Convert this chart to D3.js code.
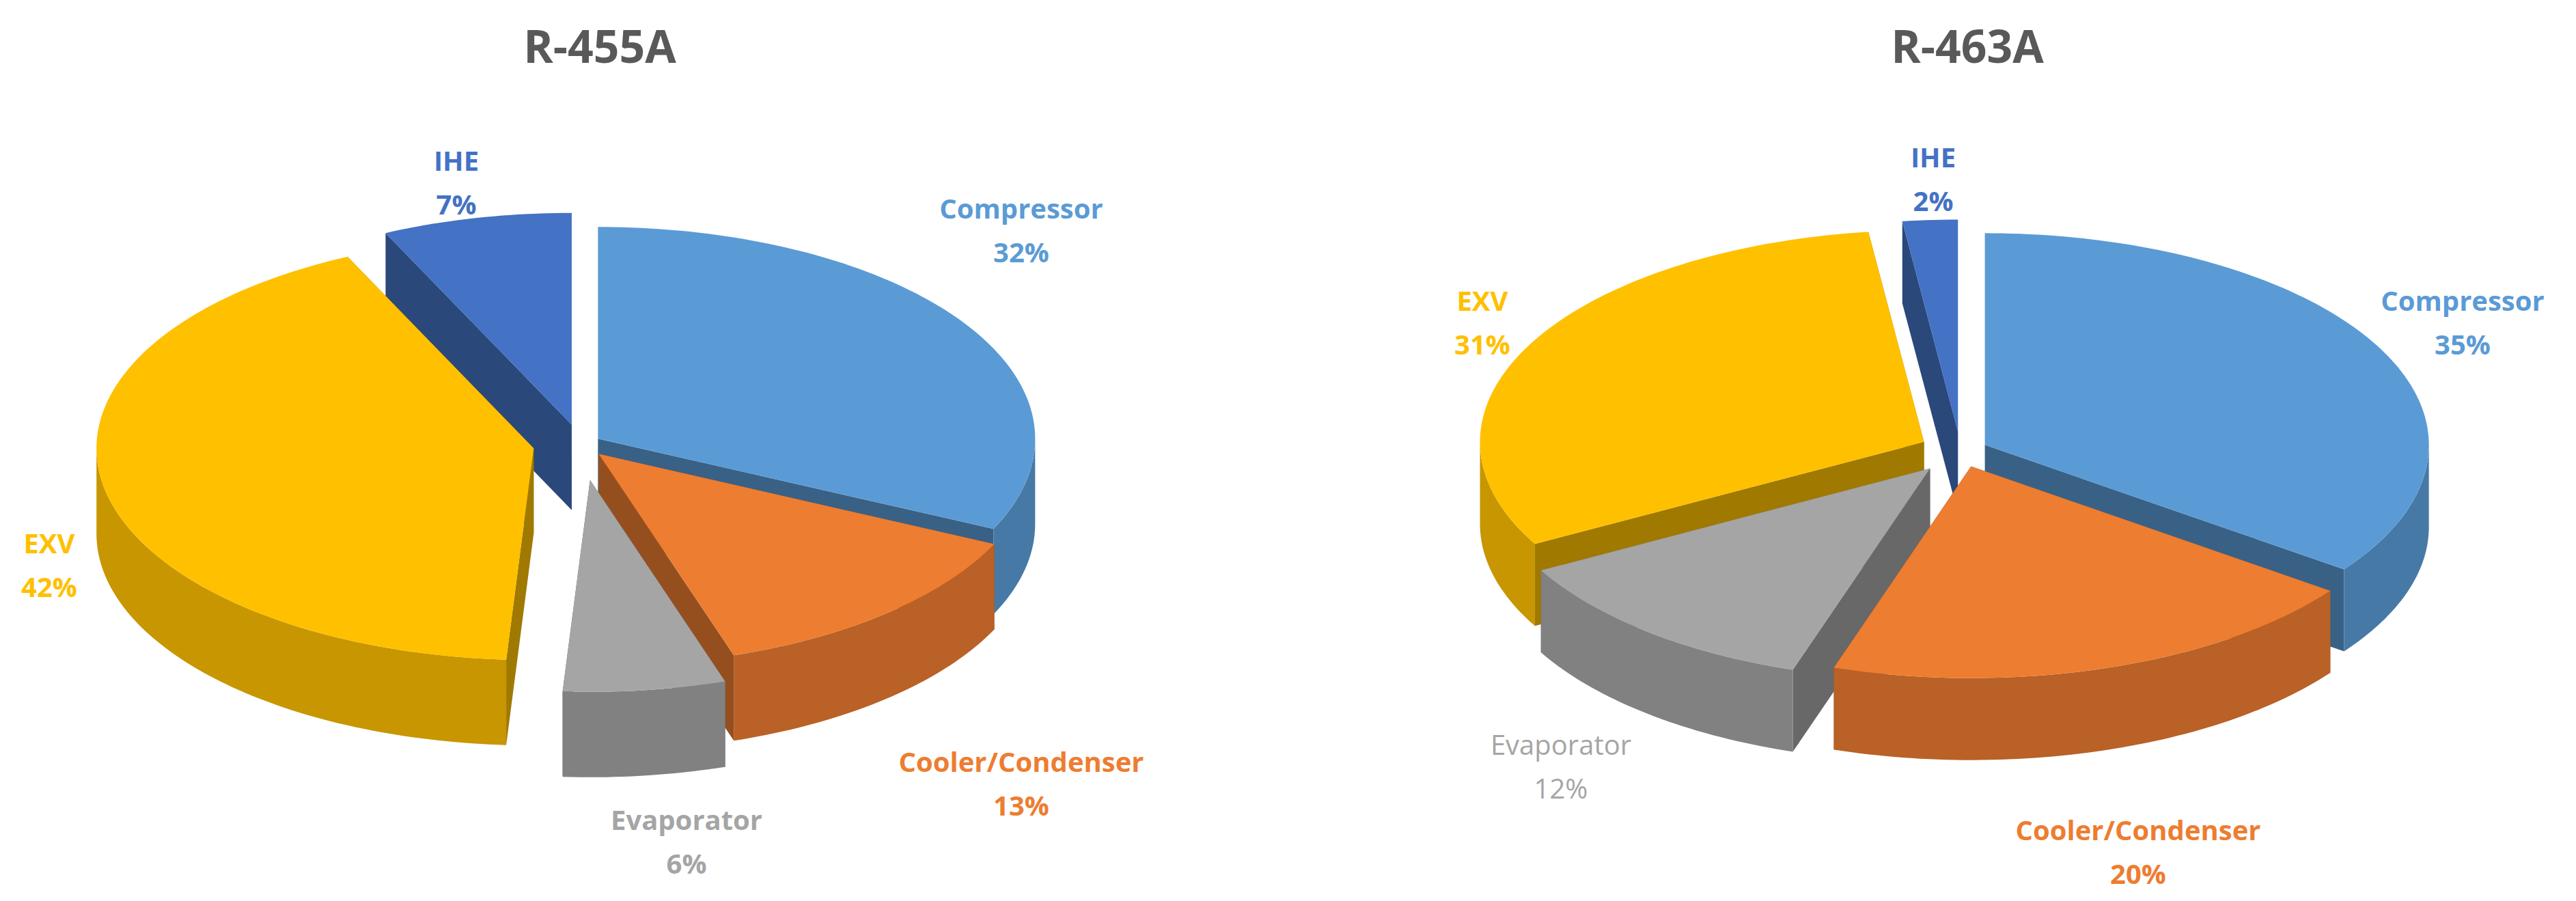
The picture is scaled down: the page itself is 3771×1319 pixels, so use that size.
<!DOCTYPE html>
<head>
<meta charset="utf-8">
<script src="https://d3js.org/d3.v7.min.js"></script>
<style>
  body { margin: 0; background: #fff; }
  text { font-family: "Open Sans", Calibri, sans-serif; }
</style>
</head>
<body>
<script>
// data
var categories = ["Compressor", "Cooler/Condenser", "Evaporator", "EXV", "IHE"];
var valuesR455A = [32, 13, 6, 42, 7];
var valuesR463A = [35, 20, 12, 31, 2];
var titles = ["R-455A", "R-463A"];
var colors = ["#5B9BD5", "#ED7D31", "#A5A5A5", "#FFC000", "#4472C4"];
var labelColors = ["#5B9BD5", "#ED7D31", "#A5A5A5", "#FFC000", "#4472C4"];

var W = 3771, H = 1319;
var svg = d3.select("body").append("svg").attr("width", W).attr("height", H);

var charts = [
  {title: titles[0], values: valuesR455A, cx: 850, cy: 650, rx: 640, ry: 310, depth: 125,
   explode: [30, 40, 110, 70, 60], titleX: 878, evapWeight: "bold",
   labels: [[1495, 320], [1495, 1130], [1005, 1215], [72, 810], [668, 250]]},
  {title: titles[1], values: valuesR463A, cx: 2870, cy: 660, rx: 650, ry: 310, depth: 120,
   explode: [40, 50, 70, 60, 60], titleX: 2880, evapWeight: "normal",
   labels: [[3605, 455], [3130, 1230], [2285, 1105], [2170, 455], [2830, 245]]}
];

var line = d3.line();

charts.forEach(function(c) {
  var g = svg.append("g");
  g.append("text").attr("x", c.titleX).attr("y", 92).attr("text-anchor", "middle")
    .attr("font-size", 66).attr("font-weight", "bold").attr("fill", "#595959").text(c.title);

  var arcs = d3.pie().sort(null)(c.values);
  arcs.forEach(function(a, i) {
    var m = (a.startAngle + a.endAngle) / 2;
    a.i = i;
    a.ox = c.cx + c.explode[i] * Math.sin(m);
    a.oy = c.cy - c.explode[i] * Math.cos(m) * (c.ry / c.rx);
    a.my = -Math.cos(m);
  });
  function pt(a, t, d) {
    return [a.ox + c.rx * Math.sin(t), a.oy - c.ry * Math.cos(t) + (d || 0)];
  }
  function arcPts(a, t0, t1, d) {
    var n = Math.max(2, Math.ceil((t1 - t0) / 0.02)), p = [];
    for (var k = 0; k <= n; k++) p.push(pt(a, t0 + (t1 - t0) * k / n, d));
    return p;
  }
  var sorted = arcs.slice().sort(function(x, y) { return x.my - y.my; });
  sorted.forEach(function(a) {
    var col = d3.color(colors[a.i]);
    var dark = col.darker(1.3), mid = col.darker(0.7);
    var sg = g.append("g");
    // radial walls
    [a.startAngle, a.endAngle].forEach(function(t) {
      var p = pt(a, t);
      sg.append("path").attr("d", line([[a.ox, a.oy], p, [p[0], p[1] + c.depth], [a.ox, a.oy + c.depth]]) + "Z")
        .attr("fill", dark);
    });
    // outer wall (front facing part)
    var t0 = Math.max(a.startAngle, Math.PI / 2), t1 = Math.min(a.endAngle, Math.PI * 1.5);
    if (t1 > t0) {
      var top = arcPts(a, t0, t1, 0), bot = arcPts(a, t0, t1, c.depth).reverse();
      sg.append("path").attr("d", line(top.concat(bot)) + "Z").attr("fill", mid);
    }
    // top face
    sg.append("path").attr("d", line([[a.ox, a.oy]].concat(arcPts(a, a.startAngle, a.endAngle, 0))) + "Z")
      .attr("fill", col.formatHex());
  });

  categories.forEach(function(name, i) {
    var l = c.labels[i];
    var t = g.append("text").attr("x", l[0]).attr("y", l[1]).attr("text-anchor", "middle")
      .attr("font-size", 40).attr("font-weight", i === 2 ? c.evapWeight : "bold").attr("fill", labelColors[i]);
    t.append("tspan").attr("x", l[0]).text(name);
    t.append("tspan").attr("x", l[0]).attr("dy", 64).text(c.values[i] + "%");
  });
});
</script>
</body>
